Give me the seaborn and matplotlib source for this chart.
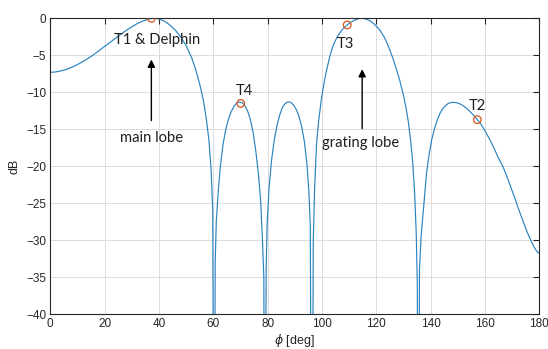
import matplotlib
matplotlib.use("Agg")
import matplotlib.pyplot as plt
import seaborn as sns
import pandas as pd

# Array-factor pattern (dB) versus azimuth angle phi (deg); nulls fall below the plotted range
phi_deg = [
    0, 2, 4, 6, 8, 10, 12, 14, 16, 18, 20, 22, 24, 26, 28, 30, 32, 34, 36, 37.5,
    39, 40, 42, 44, 46, 48, 50, 52, 53.5, 55, 56.3, 57.4, 58.4, 59.2, 59.8, 60.25,
    60.7, 61.1, 61.8, 62.6, 63.6, 64.6, 65.6, 66.6, 67.6, 68.6, 69.6, 70.6, 71.6,
    72.6, 73.6, 74.6, 75.6, 76.6, 77.4, 78.1, 78.6, 79.0,
    79.45, 79.8, 80.5, 81.5, 82.5, 83.5, 84.5, 85.5, 86.5, 87.5, 88.5, 89.5, 90.5,
    91.5, 92.5, 93.5, 94.5, 95.2, 95.7, 96.3,
    96.8, 97.3, 98.0, 98.8, 99.9, 101.0, 101.7, 103.0, 104.2, 105.5, 107.0, 108.2,
    109.3, 110.5, 112.0, 113.5, 114.6, 116.0, 117.5, 119.0, 120.1, 121.5, 123.0,
    124.0, 125.0, 126.2, 127.5, 128.7, 130.0, 131.0, 131.8, 132.6, 133.4, 134.1,
    134.7, 135.1, 135.4,
    135.9, 136.5, 137.3, 137.9, 138.5, 139.4, 140.4, 141.5, 142.5, 143.5, 144.5,
    145.5, 146.5, 148.0, 149.5, 151.0, 152.3, 153.3, 154.5, 155.8, 157.2, 158.5,
    160.0, 161.8, 163.5, 165.0, 166.7, 168.0, 169.5, 171.0, 172.5, 174.0, 175.5,
    177.0, 178.0, 179.0, 180.0,
]
gain_db = [
    -7.30, -7.25, -7.10, -6.90, -6.60, -6.25, -5.85, -5.40, -4.90, -4.35, -3.80,
    -3.25, -2.70, -2.15, -1.62, -1.15, -0.72, -0.38, -0.12, 0.0,
    -0.03, -0.08, -0.38, -0.90, -1.60, -2.50, -3.70, -5.30, -6.90, -8.90, -11.0,
    -13.5, -16.5, -20.5, -26.0, -80.0,
    -33.0, -27.5, -23.5, -20.0, -17.0, -15.0, -13.6, -12.6, -11.9, -11.45, -11.3,
    -11.4, -11.8, -12.5, -13.6, -15.3, -17.8, -21.0, -24.5, -30.0, -35.0, -80.0,
    -34.0, -28.0, -23.0, -19.0, -16.3, -14.4, -13.0, -12.0, -11.5, -11.3, -11.35,
    -11.7, -12.3, -13.2, -14.6, -16.6, -19.8, -23.5, -28.0, -80.0,
    -30.0, -23.0, -17.0, -13.8, -10.6, -8.3, -7.0, -5.0, -3.6, -2.6, -1.75, -1.25,
    -0.9, -0.55, -0.25, -0.05, 0.0, -0.08, -0.3, -0.7, -1.1, -1.7, -2.6, -3.4,
    -4.3, -5.5, -7.0, -8.5, -10.4, -12.2, -14.0, -16.4, -19.4, -23.5, -29.0,
    -36.0, -80.0,
    -34.0, -29.5, -26.0, -23.5, -20.9, -18.5, -16.4, -14.8, -13.7, -12.8, -12.2,
    -11.8, -11.5, -11.35, -11.4, -11.6, -11.9, -12.2, -12.6, -13.1, -13.7, -14.3,
    -15.2, -16.4, -17.7, -18.9, -20.1, -21.3, -22.8, -24.3, -25.9, -27.4, -28.85,
    -30.1, -30.85, -31.45, -31.8,
]

# Target directions marked on the pattern
target_names = ["T1 & Delphin", "T4", "T3", "T2"]
target_phi = [37.2, 70.1, 109.3, 157.2]
target_db = [0.0, -11.5, -0.9, -13.7]

x_ticks = list(range(0, 181, 20))
y_ticks = list(range(-40, 1, 5))

pattern = pd.DataFrame({"phi": phi_deg, "dB": gain_db})
targets = pd.DataFrame({"phi": target_phi, "dB": target_db, "name": target_names})

sns.set_style("white")
plt.rcParams["font.family"] = ["Liberation Sans", "DejaVu Sans"]

fig = plt.figure(figsize=(5.48, 3.49), dpi=100)
ax = fig.add_axes([0.0918, 0.0994, 0.8923, 0.8482])

blue = "#2a84c0"
orange = "#D95319"
axis_col = "#262626"

sns.lineplot(data=pattern, x="phi", y="dB", ax=ax, sort=False, color=blue,
             linewidth=0.85, estimator=None)
sns.scatterplot(data=targets, x="phi", y="dB", ax=ax, marker="o", s=30,
                facecolor="none", edgecolor=orange, linewidth=0.9, zorder=5)

ax.set_xlim(0, 180)
ax.set_ylim(-40, 0)
ax.set_xticks(x_ticks)
ax.set_yticks(y_ticks)
ax.grid(True, color="#dcdcdc", linewidth=0.7)
ax.set_axisbelow(True)
ax.tick_params(direction="in", length=4, width=0.8, top=True, right=True,
               labelsize=8.5, colors=axis_col, labelcolor=axis_col, pad=3)
for s in ax.spines.values():
    s.set_color(axis_col)
    s.set_linewidth(0.8)
ax.set_xlabel(r"$\phi$ [deg]", fontsize=9, color=axis_col, labelpad=1)
ax.set_ylabel("dB", fontsize=9, color=axis_col, labelpad=4)

label_font = {"family": ["Lato", "DejaVu Sans"], "fontsize": 10.6, "color": "#1e1e1e"}
label_pos = {"T1 & Delphin": (39.5, -3.0), "T4": (71.4, -9.8),
             "T3": (108.8, -3.5), "T2": (157.3, -11.9)}
for name, (px, py) in label_pos.items():
    ax.text(px, py, name, ha="center", va="center", **label_font)

ax.annotate("", xy=(37.2, -5.2), xytext=(37.2, -14.2),
            arrowprops=dict(arrowstyle="-|>", color="black", lw=1.0, mutation_scale=11))
ax.text(37.2, -16.2, "main lobe", ha="center", va="center", **label_font)
ax.annotate("", xy=(114.8, -6.5), xytext=(114.8, -15.3),
            arrowprops=dict(arrowstyle="-|>", color="black", lw=1.0, mutation_scale=11))
ax.text(114.4, -16.9, "grating lobe", ha="center", va="center", **label_font)

fig.savefig("out.png", dpi=100, facecolor="white")
